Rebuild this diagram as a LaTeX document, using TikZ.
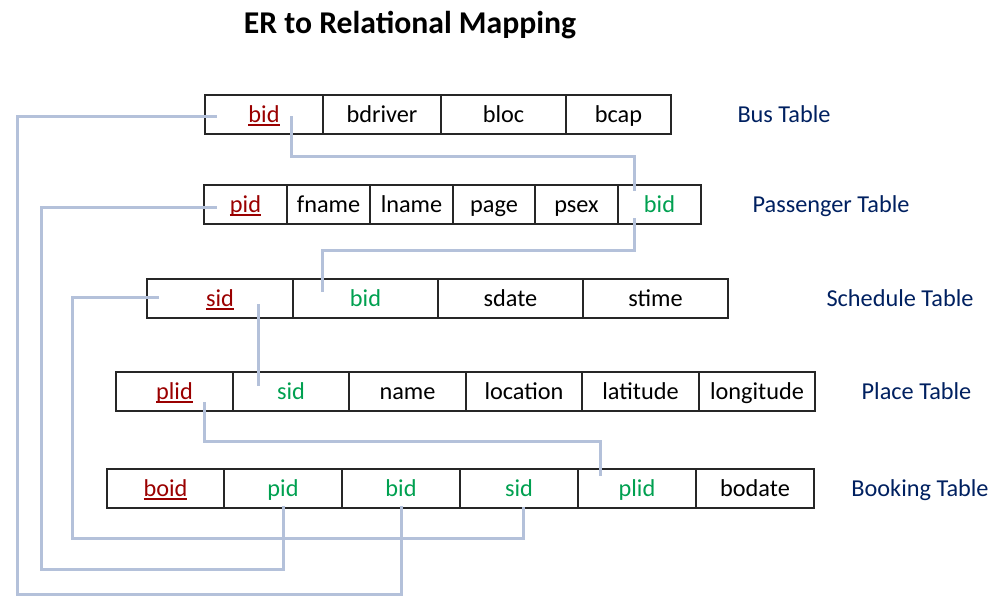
\documentclass[tikz,border=0pt]{standalone}
\usepackage{fontspec}
\setmainfont{Carlito}
\definecolor{keyred}{HTML}{9A0000}
\definecolor{fkgreen}{HTML}{00A050}
\definecolor{navy}{HTML}{002060}
\definecolor{connc}{HTML}{B4C1DA}
\newcommand\keyul[1]{\setbox0\hbox{#1}\rlap{\rule[-3.5pt]{\wd0}{1.8pt}}\box0}
\begin{document}
\begin{tikzpicture}[x=1pt,y=-1pt,
  cell/.style={draw=black!85,line width=1.3pt,minimum height=39pt,inner sep=0pt,
     text height=18pt,text depth=3pt,
     font=\fontsize{24.3}{28}\selectfont},
  pk/.style={text=keyred},
  fk/.style={text=fkgreen},
  tlabel/.style={text=navy,font=\fontsize{24.3}{28}\selectfont,inner sep=0pt,
     text height=18pt,text depth=3pt},
  conn/.style={draw=connc,line width=3pt}]
\useasboundingbox (0,0) rectangle (999,608);

\node[font=\bfseries\fontsize{31.7}{36}\selectfont,inner sep=0pt] (title) at (410,25) {ER to Relational Mapping};

% Bus table
\node[cell,pk,minimum width=118pt] (busbid) at (264,114.5) {\keyul{bid}};
\node[cell,minimum width=118pt] (busdrv) at (382,114.5) {bdriver};
\node[cell,minimum width=125pt] (busloc) at (503.5,114.5) {bloc};
\node[cell,minimum width=105pt] (buscap) at (618.5,114.5) {bcap};
\node[tlabel] (buslab) at (784,114.5) {Bus Table};

% Passenger table
\node[cell,pk,minimum width=83pt] (passpid) at (245.5,204.5) {\keyul{pid}};
\node[cell,minimum width=83pt] (passfn) at (328.5,204.5) {fname};
\node[cell,minimum width=83pt] (passln) at (411.5,204.5) {lname};
\node[cell,minimum width=82pt] (passage) at (494,204.5) {page};
\node[cell,minimum width=83pt] (passsex) at (576.5,204.5) {psex};
\node[cell,fk,minimum width=83pt] (passbid) at (659.5,204.5) {bid};
\node[tlabel] (passlab) at (831,204.5) {Passenger Table};

% Schedule table
\node[cell,pk,minimum width=146pt] (schsid) at (220,298.5) {\keyul{sid}};
\node[cell,fk,minimum width=145pt] (schbid) at (365.5,298.5) {bid};
\node[cell,minimum width=145pt] (schdate) at (510.5,298.5) {sdate};
\node[cell,minimum width=145pt] (schtime) at (655.5,298.5) {stime};
\node[tlabel] (schlab) at (900,298.5) {Schedule Table};

% Place table
\node[cell,pk,minimum width=117pt] (plplid) at (174.5,391.5) {\keyul{plid}};
\node[cell,fk,minimum width=116pt] (plsid) at (291,391.5) {sid};
\node[cell,minimum width=117pt] (plname) at (407.5,391.5) {name};
\node[cell,minimum width=116pt] (plloc) at (524,391.5) {location};
\node[cell,minimum width=117pt] (pllat) at (640.5,391.5) {latitude};
\node[cell,minimum width=116pt] (pllon) at (757,391.5) {longitude};
\node[tlabel] (pllab) at (916.5,391.5) {Place Table};

% Booking table
\node[cell,pk,minimum width=117pt] (bkboid) at (165.5,488.5) {\keyul{boid}};
\node[cell,fk,minimum width=118pt] (bkpid) at (283,488.5) {pid};
\node[cell,fk,minimum width=118pt] (bkbid) at (401,488.5) {bid};
\node[cell,fk,minimum width=118pt] (bksid) at (519,488.5) {sid};
\node[cell,fk,minimum width=118pt] (bkplid) at (637,488.5) {plid};
\node[cell,minimum width=118pt] (bkdate) at (755,488.5) {bodate};
\node[tlabel] (bklab) at (920,488.5) {Booking Table};

% connectors
\draw[conn] ([xshift=-47pt,yshift=-2pt]busbid.center) -| (17,594) -| ([yshift=3pt]bkbid.south);
\draw[conn] ([xshift=-28.5pt,yshift=-2.5pt]passpid.center) -| (41,569) -| ([yshift=3pt]bkpid.south);
\draw[conn] ([xshift=-61pt,yshift=1.5pt]schsid.center) -| (72,538) -| ([xshift=4pt,yshift=2pt]bksid.south);
\draw[conn] ([xshift=27pt,yshift=-1.5pt]busbid.center) |- (634,156) -- ([xshift=-25.5pt,yshift=13.5pt]passbid.center);
\draw[conn] ([xshift=-25.5pt,yshift=-13.5pt]passbid.center) |- (322,250) -- ([xshift=-43.5pt,yshift=6.5pt]schbid.center);
\draw[conn] ([xshift=38pt,yshift=-5.5pt]schsid.center) -- ([xshift=-33pt,yshift=5.5pt]plsid.center);
\draw[conn] ([xshift=29.5pt,yshift=-10.5pt]plplid.center) |- (600,441) -- ([xshift=-37pt,yshift=12.5pt]bkplid.center);
\end{tikzpicture}
\end{document}
